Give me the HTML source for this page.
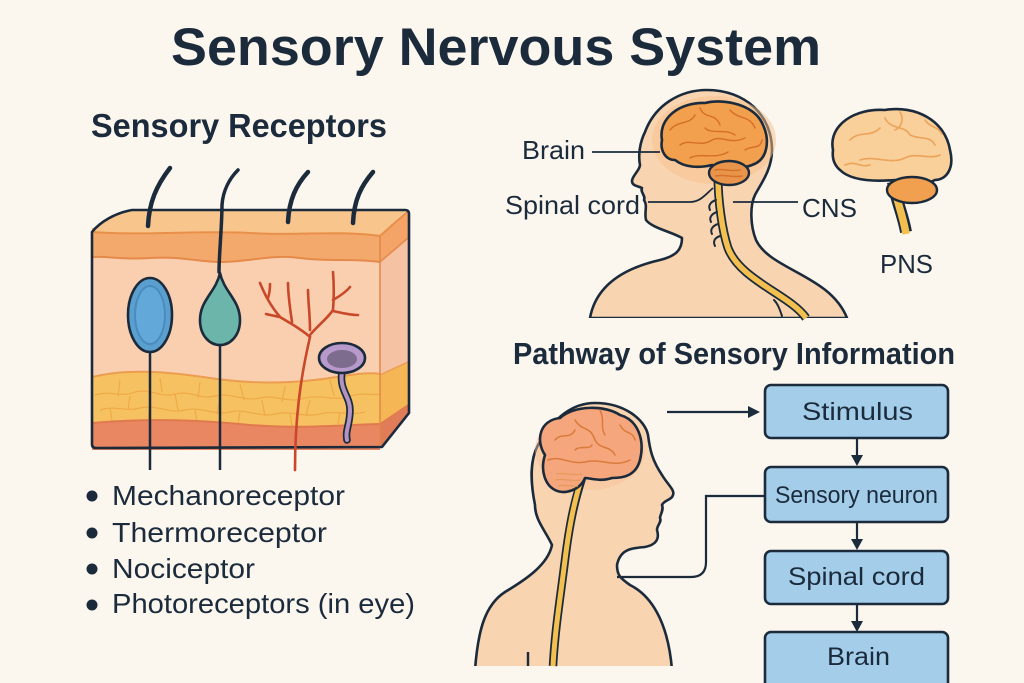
<!DOCTYPE html>
<html>
<head>
<meta charset="utf-8">
<style>
  html,body{margin:0;padding:0;background:#fbf6ee;}
  svg{display:block;}
  text{font-family:"Liberation Sans",sans-serif;fill:#1b2b3c;}
</style>
</head>
<body>
<svg width="1024" height="683" viewBox="0 0 1024 683" xmlns="http://www.w3.org/2000/svg">
  <rect width="1024" height="683" fill="#fbf6ee"/>
  <defs>
    <clipPath id="front"><rect x="92" y="228" width="288" height="222"/></clipPath>
  </defs>

  <!-- Title -->
  <text x="171" y="65" font-size="53" font-weight="bold" textLength="650" lengthAdjust="spacingAndGlyphs">Sensory Nervous System</text>

  <!-- Section headers -->
  <text x="91" y="137" font-size="33" font-weight="bold" textLength="296" lengthAdjust="spacingAndGlyphs">Sensory Receptors</text>
  <text x="513" y="364" font-size="31" font-weight="bold" textLength="442" lengthAdjust="spacingAndGlyphs">Pathway of Sensory Information</text>

  <!-- ============ SKIN BLOCK ============ -->
  <g clip-path="url(#front)">
    <rect x="92" y="228" width="288" height="222" fill="#f9cfb0"/>
    <path d="M92,228 L380,228 L380,262 C350,258 330,262 300,258 C270,254 250,262 220,262 C200,262 180,256 150,258 C120,260 110,256 92,257 Z" fill="#f4a96c"/>
    <path d="M92,377 C130,368 170,372 210,378 C250,384 290,384 330,378 C355,374 370,372 380,374 L380,450 L92,450 Z" fill="#f6c160"/>
    <path d="M92,423 C150,418 200,420 250,425 C300,429 340,425 380,424 L380,450 L92,450 Z" fill="#ea8763"/>
    <!-- fat cell lines -->
    <g fill="none" stroke="#eea443" stroke-width="1.2" opacity="0.8">
      <path d="M95,395 C110,390 120,398 135,392 C150,388 160,398 175,394 C190,390 200,400 215,396 C230,392 245,402 260,398 C275,394 290,404 305,398 C320,394 335,402 350,396 C362,392 372,396 380,394"/>
      <path d="M100,410 C115,405 125,412 140,408 C155,404 170,414 185,410 C200,406 215,416 230,412 C245,408 260,418 275,414 C290,410 305,418 320,414 C335,410 350,416 365,412"/>
      <path d="M120,380 L118,396 M160,378 L162,392 M200,382 L198,398 M240,384 L244,400 M285,386 L282,402 M330,380 L334,396 M130,396 L128,410 M175,394 L178,410 M220,398 L217,414 M262,400 L265,416 M310,400 L306,416 M350,398 L352,412 M110,408 L112,421 M150,406 L148,420 M195,410 L197,422 M240,412 L238,424 M290,414 L292,426 M340,412 L338,424"/>
    </g>
    <!-- layer boundaries -->
    <path d="M92,257 C110,256 120,260 150,258 C180,256 200,262 220,262 C250,262 270,254 300,258 C330,262 350,258 380,262" fill="none" stroke="#e58a4a" stroke-width="2"/>
    <path d="M92,377 C130,368 170,372 210,378 C250,384 290,384 330,378 C355,374 370,372 380,374" fill="none" stroke="#ec9d50" stroke-width="2"/>
    <path d="M92,423 C150,418 200,420 250,425 C300,429 340,425 380,424" fill="none" stroke="#e07a4e" stroke-width="2"/>
  </g>
  <!-- right face -->
  <polygon points="380,236 408,212 408,238 380,262" fill="#f3a466"/>
  <polygon points="380,262 408,238 408,362 380,375" fill="#f5c2a4"/>
  <polygon points="380,375 408,362 408,405 380,424" fill="#f5b656"/>
  <polygon points="380,424 408,405 408,415 380,448" fill="#e07c58"/>
  <path d="M380,262 L408,238" stroke="#e58a4a" stroke-width="1.5"/>
  <path d="M380,375 L408,362" stroke="#ec9d50" stroke-width="1.5"/>
  <path d="M380,424 L408,405" stroke="#e07a4e" stroke-width="1.5"/>
  <line x1="380" y1="236" x2="380" y2="448" stroke="#e08848" stroke-width="1.5"/>
  <!-- top face -->
  <path d="M92,232 C100,222 115,213 132,210 L407,210 L380,236 C340,230 300,236 250,233 C200,230 150,236 92,232 Z" fill="#f8c58c"/>
  <path d="M92,232 C150,236 200,230 250,233 C300,236 340,230 380,236 L407,212" fill="none" stroke="#e8904a" stroke-width="2"/>
  <!-- outline -->
  <path d="M92,232 C100,222 115,213 132,210 L405,210 Q409,210 409,214 L409,413 L382,447 L96,448 Q92,448 92,444 Z" fill="none" stroke="#1b2b3c" stroke-width="2.6" stroke-linejoin="round"/>

  <!-- hairs -->
  <g fill="none" stroke="#1b2b3c" stroke-linecap="round">
    <path d="M148,226 C149,203 156,186 170,168" stroke-width="4.5"/>
    <path d="M288,222 C289,200 296,185 308,172" stroke-width="4.5"/>
    <path d="M353,223 C354,200 361,186 373,172" stroke-width="4.5"/>
    <path d="M219,272 C219,255 222,225 222,205 C223,190 230,178 238,170" stroke-width="3.5"/>
  </g>

  <!-- receptor stems -->
  <g stroke="#1b2b3c" stroke-width="2.5">
    <line x1="150" y1="350" x2="150" y2="470"/>
    <line x1="220" y1="344" x2="220" y2="470"/>
  </g>
  <!-- blue oval -->
  <ellipse cx="150" cy="315" rx="22" ry="37" fill="#5b9fcf" stroke="#1b2b3c" stroke-width="2.6"/>
  <ellipse cx="150" cy="315" rx="15" ry="29" fill="#62a8d8" stroke="#4a8cc0" stroke-width="2"/>
  <!-- teal teardrop -->
  <path d="M220,273 C216,292 200,300 200,320 C200,336 210,345 220,345 C230,345 240,336 240,320 C240,300 224,292 220,273 Z" fill="#6bb5ab" stroke="#1b2b3c" stroke-width="2.6" stroke-linejoin="round"/>

  <!-- nociceptor -->
  <g fill="none" stroke="#c9482a" stroke-width="2.6" stroke-linecap="round">
    <path d="M295,470 C295,420 300,380 310,337"/>
    <path d="M310,337 C300,328 288,322 280,317 C270,305 265,295 260,283"/>
    <path d="M280,317 C275,316 270,315 266,314"/>
    <path d="M268,298 C270,292 270,288 270,284"/>
    <path d="M292,322 C290,308 288,295 288,283"/>
    <path d="M310,330 C310,315 308,300 308,290"/>
    <path d="M310,335 C318,325 328,318 333,310 C334,298 334,285 333,272"/>
    <path d="M333,300 C340,296 346,292 350,287"/>
    <path d="M333,311 C342,313 350,315 358,315"/>
  </g>

  <!-- purple receptor -->
  <path d="M342,372 C339,390 350,396 350,410 C350,425 345,430 347,440" fill="none" stroke="#1b2b3c" stroke-width="7.5" stroke-linecap="round"/>
  <path d="M342,372 C339,390 350,396 350,410 C350,425 345,430 347,440" fill="none" stroke="#b294c4" stroke-width="4" stroke-linecap="round"/>
  <ellipse cx="342" cy="358" rx="23" ry="15" fill="#b899cc" stroke="#1b2b3c" stroke-width="2.6"/>
  <ellipse cx="342" cy="359" rx="15" ry="9" fill="#7e6c8e"/>

  <!-- bullets -->
  <g fill="#1b2b3c">
    <circle cx="92" cy="496" r="5.5"/>
    <circle cx="92" cy="533" r="5.5"/>
    <circle cx="92" cy="569" r="5.5"/>
    <circle cx="92" cy="605" r="5.5"/>
  </g>
  <text x="112" y="505" font-size="28" textLength="233" lengthAdjust="spacingAndGlyphs">Mechanoreceptor</text>
  <text x="112" y="542" font-size="28" textLength="215" lengthAdjust="spacingAndGlyphs">Thermoreceptor</text>
  <text x="112" y="578" font-size="28" textLength="143" lengthAdjust="spacingAndGlyphs">Nociceptor</text>
  <text x="112" y="613" font-size="28" textLength="303" lengthAdjust="spacingAndGlyphs">Photoreceptors (in eye)</text>

  <!-- ============ TOP RIGHT HEAD ============ -->
  <path d="M590,318 C596,285 625,268 660,260 C676,256 682,250 682,238 C672,232 652,228 646,220 C644,212 648,206 644,200 C646,196 640,192 642,188 C638,186 632,186 632,181 C632,176 640,170 640,165 C638,155 640,142 645,132 C655,105 680,90 707,90 C745,90 772,115 772,150 C772,170 760,185 755,195 C750,205 750,225 756,240 C770,270 830,275 847,318 Z" fill="#f9d4b0" stroke="#1b2b3c" stroke-width="2.6" stroke-linejoin="round"/>
  <rect x="585" y="318" width="270" height="10" fill="#fbf6ee"/>
  <!-- glow -->
  <ellipse cx="714" cy="140" rx="62" ry="44" fill="#f7bf8a" opacity="0.5"/>
  <!-- spinal cord -->
  <path d="M718,176 C718,200 722,230 728,248 C740,280 790,295 806,318" fill="none" stroke="#1b2b3c" stroke-width="9"/>
  <path d="M718,176 C718,200 722,230 728,248 C740,280 790,295 806,318" fill="none" stroke="#f3c04f" stroke-width="5.5"/>
  <!-- nerves -->
  <g fill="none" stroke="#1b2b3c" stroke-width="2" stroke-linecap="round">
    <path d="M716,200 C710,202 708,206 710,210"/>
    <path d="M717,212 C711,214 709,218 711,222"/>
    <path d="M718,224 C712,226 710,230 712,234"/>
    <path d="M720,236 C714,238 713,242 715,246"/>
    <path d="M774,300 C778,304 780,310 782,316"/>
  </g>
  <!-- brain -->
  <path d="M662,140 C658,118 680,102 705,103 C725,98 755,105 763,125 C770,140 768,160 752,165 C740,170 725,168 712,165 C700,168 685,168 675,160 C665,160 660,150 662,140 Z" fill="#f2a04e" stroke="#1b2b3c" stroke-width="2.6" stroke-linejoin="round"/>
  <ellipse cx="729" cy="173" rx="20" ry="12" fill="#e8944a" stroke="#1b2b3c" stroke-width="2.4"/>
  <g fill="none" stroke="#d6702a" stroke-width="1.5" stroke-linecap="round">
    <path d="M670,130 C678,120 690,125 695,115"/>
    <path d="M700,108 C705,120 715,112 720,125"/>
    <path d="M680,145 C690,138 700,148 712,140 C722,135 730,145 745,138"/>
    <path d="M730,110 C738,120 750,115 755,128"/>
    <path d="M690,158 C700,152 715,160 728,152"/>
    <path d="M745,150 C752,145 760,150 762,140"/>
    <path d="M705,128 C712,135 725,128 735,135"/>
    <path d="M715,170 C722,168 730,172 740,170 M716,176 C725,174 732,178 742,176"/>
  </g>
  <!-- labels -->
  <text x="522" y="159" font-size="26" textLength="63" lengthAdjust="spacingAndGlyphs">Brain</text>
  <line x1="592" y1="152" x2="660" y2="152" stroke="#1b2b3c" stroke-width="1.8"/>
  <text x="505" y="214" font-size="26" textLength="135" lengthAdjust="spacingAndGlyphs">Spinal cord</text>
  <path d="M648,202 L690,202 C700,202 705,195 713,188" fill="none" stroke="#1b2b3c" stroke-width="1.8"/>
  <text x="802" y="217" font-size="26" textLength="55" lengthAdjust="spacingAndGlyphs">CNS</text>
  <line x1="733" y1="202" x2="798" y2="202" stroke="#1b2b3c" stroke-width="1.8"/>

  <!-- small PNS brain -->
  <path d="M893,182 C896,200 903,215 906,232" fill="none" stroke="#1b2b3c" stroke-width="12"/>
  <path d="M893,180 C896,200 903,215 906,234" fill="none" stroke="#f3c04f" stroke-width="7.5"/>
  <path d="M833,150 C828,125 855,108 885,110 C915,105 945,120 950,150 C955,170 945,180 935,180 C920,188 905,182 895,180 C870,182 850,180 840,170 C834,165 832,158 833,150 Z" fill="#f9cf9a" stroke="#1b2b3c" stroke-width="2.6" stroke-linejoin="round"/>
  <ellipse cx="912" cy="190" rx="25" ry="13" fill="#f0a04e" stroke="#1b2b3c" stroke-width="2.4"/>
  <g fill="none" stroke="#eca35a" stroke-width="1.6" stroke-linecap="round">
    <path d="M850,140 C860,130 870,138 880,128"/>
    <path d="M885,118 C890,130 905,125 910,135 C920,140 930,135 935,145"/>
    <path d="M860,160 C875,155 890,165 905,158 C915,152 930,160 940,155"/>
    <path d="M900,112 C905,120 900,128 895,130"/>
    <path d="M845,165 C855,160 860,168 870,165"/>
    <path d="M925,120 C930,128 938,126 942,134"/>
  </g>
  <text x="880" y="273" font-size="26" textLength="53" lengthAdjust="spacingAndGlyphs">PNS</text>

  <!-- ============ BOTTOM HEAD ============ -->
  <path d="M475,670 C478,630 485,605 505,592 C525,580 548,565 552,545 C545,530 535,520 535,505 C530,480 530,460 538,445 C555,415 575,403 595,403 C625,403 645,420 648,435 C650,450 652,460 662,475 C668,485 675,490 673,495 C672,500 664,500 662,505 C664,510 660,515 660,518 C662,522 657,525 657,530 C660,540 655,545 645,547 C630,548 620,550 617,565 C617,575 620,578 630,585 C650,595 668,620 672,670 Z" fill="#f9d4b0" stroke="#1b2b3c" stroke-width="2.6" stroke-linejoin="round"/>
  <rect x="470" y="666" width="210" height="20" fill="#fbf6ee"/>
  <line x1="528" y1="652" x2="528" y2="666" stroke="#1b2b3c" stroke-width="2.4"/>
  <ellipse cx="590" cy="450" rx="55" ry="40" fill="#f7c09a" opacity="0.45"/>
  <path d="M582,478 C575,500 570,520 565,560 C560,600 555,630 553,666" fill="none" stroke="#1b2b3c" stroke-width="8.5"/>
  <path d="M582,476 C575,500 570,520 565,560 C560,600 555,630 553,666" fill="none" stroke="#f3c04f" stroke-width="5"/>
  <path d="M545,455 C535,440 540,420 560,418 C575,405 605,405 620,415 C638,420 645,440 640,460 C636,475 625,478 612,478 C600,482 590,478 585,478 C580,490 565,495 555,490 C545,485 540,470 545,455 Z" fill="#f5a67c" stroke="#1b2b3c" stroke-width="2.6" stroke-linejoin="round"/>
  <g fill="none" stroke="#da7a3c" stroke-width="1.5" stroke-linecap="round">
    <path d="M555,440 C562,432 570,440 575,430"/>
    <path d="M575,420 C582,432 590,425 595,440 C600,450 610,445 615,455"/>
    <path d="M600,410 C605,420 600,428 605,435"/>
    <path d="M620,425 C625,435 632,430 635,440"/>
    <path d="M548,460 C560,455 570,465 585,462 C600,458 615,468 630,460"/>
    <path d="M575,450 C580,445 590,450 592,445"/>
  </g>
  <g fill="none" stroke="#e49a5a" stroke-width="1.2">
    <path d="M556,474 C564,472 572,476 582,474 M555,480 C564,478 572,482 580,480 M558,486 C566,484 572,487 578,486"/>
  </g>

  <!-- connector -->
  <path d="M765,496 L706,496 L706,562 Q706,577 691,577 L617,577" fill="none" stroke="#1b2b3c" stroke-width="2.2"/>
  <!-- stimulus arrow -->
  <line x1="667" y1="412" x2="750" y2="412" stroke="#1b2b3c" stroke-width="2.2"/>
  <polygon points="760,412 748,406 748,418" fill="#1b2b3c"/>

  <!-- boxes -->
  <g fill="#a3cde9" stroke="#1b2b3c" stroke-width="2.6">
    <rect x="765" y="385" width="183" height="53" rx="6"/>
    <rect x="765" y="467" width="183" height="55" rx="6"/>
    <rect x="765" y="551" width="183" height="53" rx="6"/>
    <rect x="765" y="632" width="183" height="60" rx="6"/>
  </g>
  <!-- vertical arrows -->
  <g stroke="#1b2b3c" stroke-width="2.2">
    <line x1="857" y1="438" x2="857" y2="458"/>
    <line x1="857" y1="522" x2="857" y2="542"/>
    <line x1="857" y1="604" x2="857" y2="624"/>
  </g>
  <g fill="#1b2b3c">
    <polygon points="857,466 851,455 863,455"/>
    <polygon points="857,550 851,539 863,539"/>
    <polygon points="857,632 851,621 863,621"/>
  </g>
  <text x="802" y="420" font-size="25" textLength="111" lengthAdjust="spacingAndGlyphs">Stimulus</text>
  <text x="775" y="503" font-size="24" textLength="163" lengthAdjust="spacingAndGlyphs">Sensory neuron</text>
  <text x="788" y="585" font-size="25" textLength="137" lengthAdjust="spacingAndGlyphs">Spinal cord</text>
  <text x="827" y="665" font-size="25" textLength="63" lengthAdjust="spacingAndGlyphs">Brain</text>
</svg>
</body>
</html>
